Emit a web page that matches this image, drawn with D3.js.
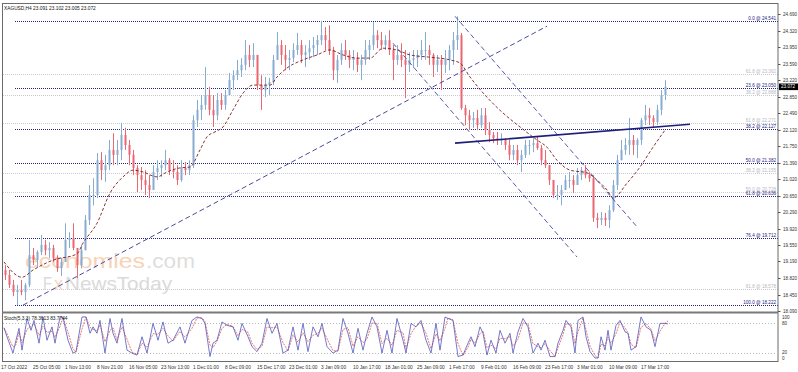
<!DOCTYPE html>
<html><head><meta charset="utf-8">
<script src="https://cdn.jsdelivr.net/npm/d3@7"></script>
<style>body{margin:0;background:#fff}svg{display:block}text{font-family:"Liberation Sans",Arial,sans-serif}</style>
</head><body><svg id="c" width="798" height="372"></svg>
<script>
// ---------- DATA ----------
const title = "XAGUSD,H4  23.091 23.102 23.005 23.072";
const stochTitle = "Stoch(5,3,3) 78.3613 83.7744";
const lastPrice = 23.072;
const priceTicks = [24.690,24.320,23.950,23.590,23.220,22.850,22.490,22.120,21.750,21.390,21.020,20.650,20.290,19.920,19.550,19.190,18.820,18.450,18.090];
const dateLabels = ["17 Oct 2022","25 Oct 05:00","1 Nov 13:00","8 Nov 21:00","16 Nov 05:00","23 Nov 13:00","1 Dec 01:00","8 Dec 09:00","15 Dec 17:00","23 Dec 01:00","3 Jan 09:00","10 Jan 17:00","18 Jan 01:00","25 Jan 09:00","1 Feb 17:00","9 Feb 01:00","16 Feb 09:00","23 Feb 17:00","3 Mar 01:00","10 Mar 09:00","17 Mar 17:00"];
const dateBars = [0,32,64,96,128,160,192,224,256,288,320,352,384,416,448,480,512,544,576,608,640];
const stochLevels = [80,20];
const stochAxis = [100,80,20,0];

// candles (each spans 4 H4 bars)
const open = [19.00,18.89,18.67,18.51,18.56,18.51,18.67,19.33,19.22,19.40,
19.56,19.44,19.49,19.27,19.04,19.18,19.67,19.71,19.49,19.11,
19.44,20.11,20.67,20.67,21.44,21.22,21.33,21.67,21.56,21.67,
22.00,21.78,21.56,21.27,21.11,21.00,20.89,20.78,21.18,21.27,
21.33,21.44,21.22,21.18,21.00,21.27,21.22,21.33,22.33,22.56,
22.67,22.89,22.56,22.44,22.78,22.67,22.89,23.22,23.33,23.44,
23.56,23.78,23.67,23.78,23.11,23.00,23.11,23.18,23.67,24.00,
23.78,23.67,23.71,23.89,24.00,23.78,23.84,23.93,24.00,24.11,
24.22,24.11,23.89,23.44,23.67,23.89,23.78,23.67,23.71,23.56,
23.67,23.89,24.00,24.22,24.11,24.00,24.11,23.89,23.67,23.78,
23.67,23.56,23.67,23.71,23.78,23.89,23.89,23.78,23.56,23.67,
23.56,23.67,23.89,24.11,24.22,22.60,22.44,22.33,22.38,22.22,
22.44,22.11,22.00,21.93,21.89,21.89,21.78,21.56,21.67,21.44,
21.56,21.78,21.78,21.82,21.71,21.44,21.33,21.00,20.67,20.67,
20.78,21.00,21.00,20.89,21.11,21.22,21.11,21.04,20.16,20.11,
20.16,20.11,20.33,20.89,21.44,21.67,21.78,21.89,21.78,21.89,
22.33,22.44,22.38,22.29,22.56,22.89];
const high = [19.11,19.00,18.78,18.67,18.78,18.71,19.67,19.49,19.44,19.78,
19.67,19.62,19.56,19.33,19.27,20.04,19.84,20.04,19.49,19.56,
20.22,20.89,21.04,21.60,21.62,21.56,21.89,22.04,21.89,22.27,
22.16,21.89,21.67,21.33,21.29,21.22,21.11,21.33,21.44,21.44,
21.67,21.49,21.44,21.33,21.44,21.40,21.44,22.44,22.78,22.89,
23.51,23.07,22.89,22.93,22.93,23.00,23.38,23.44,23.67,23.71,
24.11,24.00,24.04,23.78,23.33,23.29,23.27,23.78,24.29,24.11,
24.00,23.89,24.04,24.27,24.11,24.00,24.11,24.18,24.22,24.53,
24.40,24.44,23.96,23.78,24.04,24.11,23.89,23.89,23.84,23.78,
24.11,24.11,24.51,24.33,24.29,24.22,24.33,24.00,24.00,24.04,
23.89,23.84,23.89,23.89,24.11,24.29,24.00,23.82,23.78,23.78,
23.89,24.00,24.29,24.64,24.27,22.67,22.56,22.51,22.56,22.60,
22.60,22.29,22.07,22.07,22.04,21.93,21.89,21.78,21.78,21.67,
21.89,21.89,21.93,21.96,21.78,21.67,21.33,21.00,20.89,20.89,
21.11,21.18,21.11,21.27,21.29,21.33,21.18,21.11,20.27,20.29,
20.27,20.44,21.00,21.56,21.89,21.93,22.38,22.00,21.93,22.38,
22.67,22.60,22.44,22.67,23.00,23.22];
const low = [18.78,18.60,18.42,18.22,18.44,18.33,18.62,19.11,19.07,19.33,
19.33,19.27,19.18,18.96,18.87,19.18,19.49,19.44,18.82,19.04,
19.44,20.00,20.44,20.60,21.00,20.96,21.22,21.33,21.33,21.44,
21.67,21.33,21.11,20.73,20.78,20.67,20.60,20.78,21.00,21.07,
21.22,21.11,21.04,20.89,20.96,21.11,21.11,21.27,22.18,22.33,
22.56,22.44,22.18,22.33,22.56,22.56,22.89,23.00,23.22,23.29,
23.44,23.51,23.51,23.00,22.56,22.84,22.89,23.11,23.67,23.56,
23.44,23.44,23.62,23.78,23.60,23.51,23.67,23.73,23.78,24.00,
23.89,23.78,23.22,23.16,23.56,23.67,23.49,23.44,23.40,23.22,
23.56,23.67,23.89,23.93,23.89,23.89,23.78,23.22,23.56,23.51,
22.82,23.40,23.49,23.51,23.67,23.67,23.56,23.29,23.40,23.00,
23.38,23.44,23.56,23.89,22.56,22.22,22.11,22.16,22.11,22.16,
22.00,21.84,21.82,21.78,21.78,21.67,21.44,21.44,21.33,21.18,
21.49,21.56,21.62,21.67,21.33,21.27,20.89,20.60,20.56,20.44,
20.78,20.82,20.71,20.93,21.00,21.04,20.96,20.07,19.93,20.00,
19.98,19.93,20.29,20.78,21.44,21.56,21.56,21.56,21.49,21.78,
22.22,22.22,22.18,22.22,22.44,22.78];
const close = [18.89,18.67,18.51,18.56,18.51,18.67,19.33,19.22,19.40,19.56,
19.44,19.49,19.27,19.04,19.18,19.67,19.71,19.49,19.11,19.44,
20.11,20.67,20.67,21.44,21.22,21.33,21.67,21.56,21.67,22.00,
21.78,21.56,21.27,21.11,21.00,20.89,20.78,21.18,21.27,21.33,
21.44,21.22,21.18,21.00,21.27,21.22,21.33,22.33,22.56,22.67,
22.89,22.56,22.44,22.78,22.67,22.89,23.22,23.33,23.44,23.56,
23.78,23.67,23.78,23.11,23.00,23.11,23.18,23.67,24.00,23.78,
23.67,23.71,23.89,24.00,23.78,23.84,23.93,24.00,24.11,24.22,
24.11,23.89,23.44,23.67,23.89,23.78,23.67,23.71,23.56,23.67,
23.89,24.00,24.22,24.11,24.00,24.11,23.89,23.67,23.78,23.67,
23.56,23.67,23.71,23.78,23.89,23.89,23.78,23.56,23.67,23.56,
23.67,23.89,24.11,24.22,22.60,22.44,22.33,22.38,22.22,22.44,
22.11,22.00,21.93,21.89,21.89,21.78,21.56,21.67,21.44,21.56,
21.78,21.78,21.82,21.71,21.44,21.33,21.00,20.67,20.67,20.78,
21.00,21.00,20.89,21.11,21.22,21.11,21.04,20.16,20.11,20.16,
20.11,20.33,20.89,21.44,21.67,21.78,21.89,21.78,21.89,22.33,
22.44,22.38,22.29,22.56,22.89,23.07];

// moving average (dashed)
const maBars = [0,18,29,49,73,79,93,106,119,129,139,153,163,176,186,196,203,211,219,229,239,249,266,273,283,299,313,326,339,353,366,379,393,406,426,446,456,466,483,499,516,533,543,553,566,583,593,603,609,623,636,649,661];
const maValues = [19.18,18.84,19.00,19.22,19.36,19.60,20.04,20.71,21.07,21.22,21.18,21.07,21.18,21.27,21.29,21.67,21.96,22.07,22.18,22.56,22.93,23.11,23.11,23.29,23.49,23.67,23.78,23.89,23.78,23.71,23.71,23.93,23.89,23.78,23.73,23.67,23.60,23.29,22.84,22.49,22.18,21.89,21.73,21.44,21.22,21.16,21.00,20.78,20.60,20.93,21.29,21.73,22.11];

// stochastic
const stochBars = [0,3,9,12,15,18,23,27,30,35,39,43,48,51,56,59,64,69,72,78,82,86,89,93,96,101,106,109,113,118,123,128,133,138,143,149,154,159,164,169,176,181,188,193,198,201,206,209,213,218,223,229,234,238,244,248,253,258,263,268,273,279,284,289,294,299,304,309,314,318,323,329,334,339,344,349,354,359,363,368,373,378,383,388,393,399,402,407,412,417,422,427,432,436,441,444,449,454,459,464,467,471,476,479,483,487,492,496,501,506,509,514,519,524,529,534,537,541,546,551,554,559,562,567,571,574,579,582,586,591,594,597,601,604,607,612,616,621,624,627,632,637,642,647,651,656,661,664];
const stochMain = [70,52,19,45,69,25,89,65,85,39,92,45,72,39,92,91,45,19,22,92,92,59,72,59,85,19,89,59,39,89,25,19,15,52,19,79,45,82,39,45,72,39,85,92,89,79,12,39,45,82,75,72,45,79,52,32,22,39,89,59,79,19,25,72,25,79,22,72,52,79,32,19,25,89,59,19,69,25,59,92,72,19,65,19,89,45,19,79,72,85,45,19,79,25,92,89,85,12,15,39,52,32,72,59,15,45,19,65,39,59,19,62,89,72,19,39,25,45,12,12,39,65,85,72,19,85,92,52,22,9,9,52,25,65,25,75,85,62,59,25,32,92,72,65,32,79,79,78];
const stochSignal = [70,58,31,36,61,40,67,73,78,55,73,61,63,51,73,91,61,28,21,68,92,71,67,64,76,42,65,70,46,72,47,21,16,39,31,58,57,69,54,43,63,51,69,90,90,83,35,30,43,69,77,73,54,67,61,39,26,33,72,70,72,40,23,56,41,60,42,55,59,70,48,24,23,67,70,33,52,40,47,80,79,38,49,35,65,60,28,58,74,80,59,28,58,44,69,90,86,38,14,31,47,39,58,64,30,35,28,49,48,52,33,47,80,78,38,32,30,38,24,12,30,56,78,77,38,62,90,66,33,14,9,37,34,51,39,58,82,70,60,37,30,71,79,67,44,63,79,84];

// Fibonacci levels [level %, price]
const fibNavy = [[0.0,24.541],[23.6,23.050],[38.2,22.127],[50.0,21.382],[61.8,20.636],[76.4,19.712],[100.0,18.222]];
const fibGray = [[61.8,23.362],[38.2,22.888],[61.8,22.271],[38.2,21.155],[50.0,20.728],[61.8,18.578]];
const fibNavyStartBar = 11, fibGrayStartBar = -1;

// trend lines [bar, price]
const trendUp = [[19,18.22],[543,24.42]];
const channelTop = [[451,24.64],[633,19.96]];
const channelBottom = [[389,24.04],[573,19.29]];
const neckline = [[451,21.82],[686,22.24]];

// ---------- DRAW ----------
const svg = d3.select("#c");
const x = d3.scaleLinear().domain([0,662]).range([4,666]);
const y = d3.scaleLinear().domain([18.09,24.69]).range([311,14]);
const ys = d3.scaleLinear().domain([0,100]).range([362.5,313]);
const AX = 778;

svg.append("rect").attr("width",798).attr("height",372).attr("fill","#fff");
svg.append("clipPath").attr("id","mainClip").append("rect").attr("x",3).attr("y",4).attr("width",AX-3).attr("height",308);
svg.append("clipPath").attr("id","subClip").append("rect").attr("x",3).attr("y",314).attr("width",AX-3).attr("height",47);
const main = svg.append("g").attr("clip-path","url(#mainClip)");

// fib lines
function fib(levels, startBar, color, txtColor){
  levels.forEach(([lv,p])=>{
    main.append("line").attr("x1",x(startBar)).attr("x2",AX).attr("y1",Math.round(y(p))+0.5).attr("y2",Math.round(y(p))+0.5)
      .attr("stroke",color).attr("stroke-width",1).attr("stroke-dasharray","1,1");
    main.append("text").attr("x",776).attr("y",Math.round(y(p))-1).attr("text-anchor","end")
      .attr("font-size",4.6).attr("fill",txtColor).text(`${lv.toFixed(1)} @ ${p.toFixed(3)}`);
  });
}
fib(fibGray, fibGrayStartBar, "#cacad0", "#b8b8c0");
fib(fibNavy, fibNavyStartBar, "#232380", "#232380");

// watermark
const wm = main.append("g");
wm.append("text").attr("x",25).attr("y",268).attr("font-size",21).attr("textLength",120).attr("lengthAdjust","spacingAndGlyphs")
  .attr("fill","#f8d2b6").text("economies");
wm.append("text").attr("x",146).attr("y",268).attr("font-size",21).attr("textLength",49).attr("lengthAdjust","spacingAndGlyphs")
  .attr("fill","#dedede").text(".com");
wm.append("text").attr("x",43).attr("y",290).attr("font-size",19).attr("textLength",9).attr("lengthAdjust","spacingAndGlyphs")
  .attr("fill","#dadada").text("F");
wm.append("text").attr("x",54).attr("y",290).attr("font-size",19).attr("textLength",9).attr("lengthAdjust","spacingAndGlyphs")
  .attr("fill","#f5d6c0").text("x");
wm.append("text").attr("x",65).attr("y",290).attr("font-size",19).attr("textLength",107).attr("lengthAdjust","spacingAndGlyphs")
  .attr("fill","#dadada").text("NewsToday");

// candles
const bull = "#88abd2", bear = "#ea6670";
const cg = main.append("g");
close.forEach((c,i)=>{
  const b = i*4 + 1.5, cx = x(b), o = open[i];
  const col = c >= o ? bull : bear;
  const hi = Math.max(high[i], o, c), lo = Math.min(low[i], o, c);
  cg.append("line").attr("x1",cx).attr("x2",cx).attr("y1",y(hi)).attr("y2",y(lo)).attr("stroke",col).attr("stroke-width",1);
  const top = y(Math.max(o,c)), bot = y(Math.min(o,c));
  cg.append("rect").attr("x",cx-1).attr("width",2).attr("y",top).attr("height",Math.max(1,bot-top)).attr("fill",col);
});

// moving average
main.append("path").datum(maBars.map((b,i)=>[b,maValues[i]]))
  .attr("d", d3.line().x(d=>x(d[0])).y(d=>y(d[1])).curve(d3.curveMonotoneX))
  .attr("fill","none").attr("stroke","#7e1c1c").attr("stroke-width",0.9).attr("stroke-dasharray","3,2");

// trend lines
function tline(pts, color, w, dash){
  main.append("line").attr("x1",x(pts[0][0])).attr("y1",y(pts[0][1])).attr("x2",x(pts[1][0])).attr("y2",y(pts[1][1]))
    .attr("stroke",color).attr("stroke-width",w).attr("stroke-dasharray",dash||null);
}
tline(trendUp, "#4a4a9c", 1, "5,3");
tline(channelTop, "#5a5aa6", 1, "5,3");
tline(channelBottom, "#5a5aa6", 1, "5,3");
tline(neckline, "#1d1d7a", 1.6, null);

// title text
svg.append("text").attr("x",4).attr("y",10).attr("font-size",4.8).attr("fill","#111").text(title);

// frame
svg.append("rect").attr("x",2.5).attr("y",3.5).attr("width",AX-2.5).attr("height",358).attr("fill","none").attr("stroke","#6b6b6b").attr("stroke-width",1);
svg.append("line").attr("x1",2).attr("x2",AX).attr("y1",312.5).attr("y2",312.5).attr("stroke","#7a7a7a").attr("stroke-width",2);

// price axis
priceTicks.forEach(p=>{
  const yy = Math.round(y(p))+0.5;
  svg.append("line").attr("x1",AX).attr("x2",AX+2.5).attr("y1",yy).attr("y2",yy).attr("stroke","#555");
  svg.append("text").attr("x",AX+5).attr("y",yy+1.6).attr("font-size",4.6).attr("fill","#333").text(p.toFixed(3));
});
// current price box
svg.append("rect").attr("x",AX+1).attr("y",y(lastPrice)-3.3).attr("width",19).attr("height",6.6).attr("fill","#000");
svg.append("text").attr("x",AX+3).attr("y",y(lastPrice)+1.6).attr("font-size",4.6).attr("fill","#fff").text(lastPrice.toFixed(3));

// stochastic subwindow
const sub = svg.append("g").attr("clip-path","url(#subClip)");
stochLevels.forEach(l=>{
  sub.append("line").attr("x1",3).attr("x2",AX).attr("y1",Math.round(ys(l))+0.5).attr("y2",Math.round(ys(l))+0.5)
    .attr("stroke","#b8b8b8").attr("stroke-dasharray","1,2");
});
const sline = d3.line().x(d=>x(d[0])).y(d=>ys(d[1]));
sub.append("path").datum(stochBars.map((b,i)=>[b,stochSignal[i]])).attr("d",sline)
  .attr("fill","none").attr("stroke","#e25454").attr("stroke-width",0.8).attr("stroke-dasharray","2,1");
sub.append("path").datum(stochBars.map((b,i)=>[b,stochMain[i]])).attr("d",sline)
  .attr("fill","none").attr("stroke","#5058bc").attr("stroke-width",0.8);
svg.append("text").attr("x",4).attr("y",320).attr("font-size",4.8).attr("fill","#111").text(stochTitle);
stochAxis.forEach(v=>{
  const yy = Math.min(358.5, Math.max(317, ys(v)));
  svg.append("text").attr("x",AX+4).attr("y",yy+1.6).attr("font-size",4.6).attr("fill","#333").text(v);
});

// date axis
dateLabels.forEach((d,i)=>{
  svg.append("text").attr("x",x(dateBars[i])-3).attr("y",369).attr("font-size",4.8).attr("fill","#333").text(d);
});
</script></body></html>
